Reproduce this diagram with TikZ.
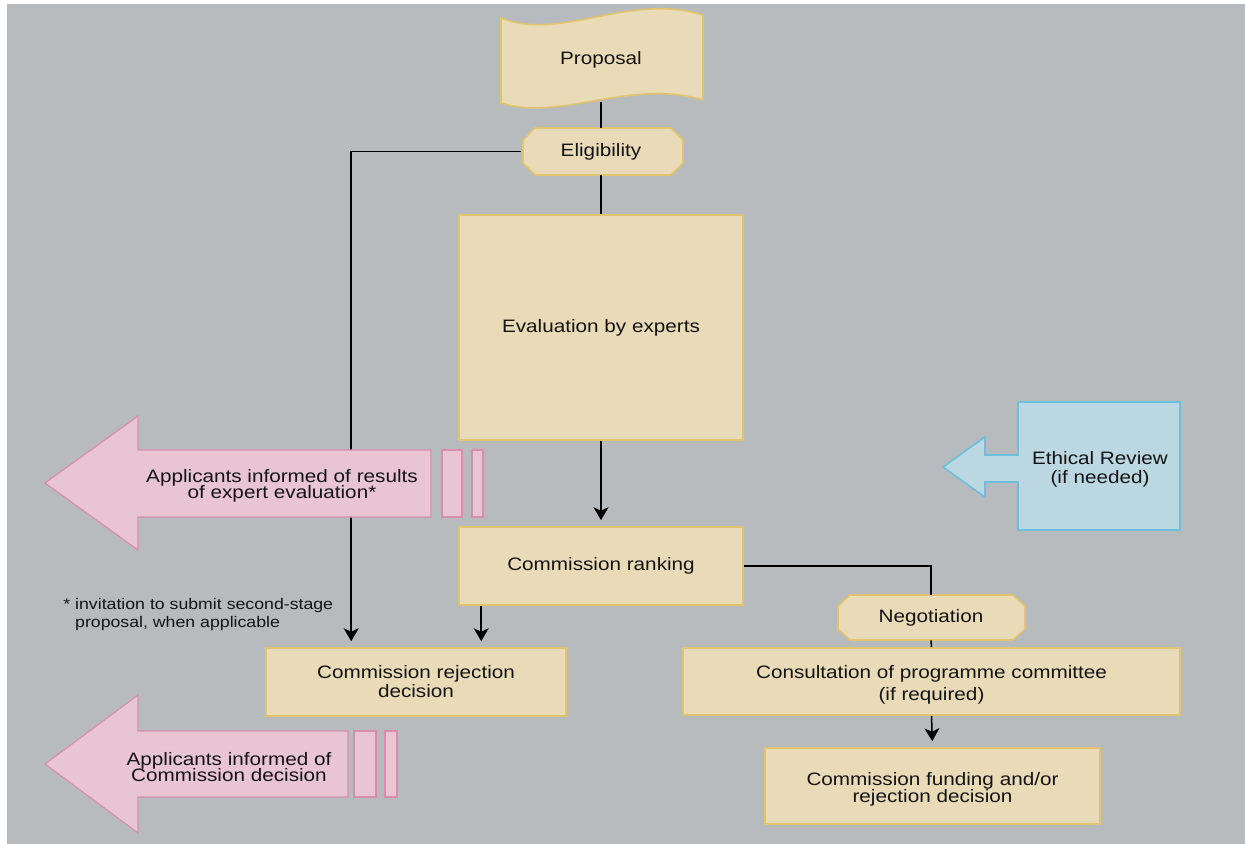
\documentclass[tikz,border=0pt]{standalone}
\usepackage{fontspec}
\setmainfont[FakeStretch=1.15]{Liberation Sans}
\usetikzlibrary{arrows.meta,calc}
\definecolor{bggray}{HTML}{B7BBBE}
\definecolor{beige}{HTML}{E9DAB8}
\definecolor{beigeline}{HTML}{E2C46E}
\definecolor{pinkfill}{HTML}{E9C5D3}
\definecolor{pinkline}{HTML}{D98DAE}
\definecolor{bluefill}{HTML}{BBD7E2}
\definecolor{blueline}{HTML}{6CC0DC}
\definecolor{ink}{HTML}{141414}
\newcommand{\fs}[2]{\fontsize{#1}{#2}\selectfont\lineskiplimit=-20pt\relax}
\tikzset{
  x=0.5pt, y=-0.5pt,
  lbl/.style={text=ink, align=center, font=\fs{9}{9.5}, inner sep=0pt},
  box/.style={lbl, draw=beigeline, fill=beige, line width=0.8pt},
  beigeshape/.style={draw=beigeline, fill=beige, line width=0.8pt},
  pinkshape/.style={draw=pinkline, fill=pinkfill, line width=0.6pt},
  blueshape/.style={draw=blueline, fill=bluefill, line width=0.8pt},
  conn/.style={draw=black, line width=0.75pt},
  arr/.style={conn, -{Stealth[length=6.5pt,width=7.5pt,inset=1.8pt]}, shorten >=3pt},
}
\begin{document}
\begin{tikzpicture}
\useasboundingbox (0,0) rectangle (1245,844);
\fill[white] (0,0) rectangle (1245,844);
\fill[bggray] (7,4) rectangle (1245,844);

% Proposal tape shape
\path[beigeshape] (501,18) .. controls (560,42) and (630,-8) .. (703,15)
  -- (703,100) .. controls (630,78) and (560,122) .. (501,103) -- cycle;
\node[lbl, minimum width=101pt, minimum height=42pt] (prop) at (601,60) {Proposal};

% Eligibility octagon
\path[beigeshape] (535,128) -- (671,128) -- (683,140) -- (683,163) -- (671,175)
  -- (535,175) -- (523,163) -- (523,140) -- cycle;
\node[lbl, minimum width=80pt, minimum height=23.5pt] (elig) at (601,151.5) {Eligibility};

% Boxes
\node[box, minimum width=142pt, minimum height=112.5pt] (eval) at (601,327.5) {Evaluation by experts};
\node[box, minimum width=142pt, minimum height=39pt] (rank) at (601,566) {Commission ranking};
\node[box, minimum width=150pt, minimum height=34pt] (reject) at (416,682) {Commission rejection\\decision};

% Negotiation octagon
\path[beigeshape] (850,595) -- (1013,595) -- (1025,606) -- (1025,629) -- (1013,640)
  -- (850,640) -- (838,629) -- (838,606) -- cycle;
\node[lbl, minimum width=93.5pt, minimum height=22.5pt] (neg) at (931,617.5) {Negotiation};

\node[box, minimum width=248.5pt, minimum height=33.5pt] (consult) at (931.5,681.5) {};
\node[lbl, font=\fs{9}{11}] (consulttxt) at (931.5,685) {Consultation of programme committee\\(if required)};
\node[box, minimum width=167.5pt, minimum height=38pt] (fund) at (932.5,786) {};
\node[lbl, font=\fs{9}{8.6}] (fundtxt) at (932.5,789) {Commission funding and/or\\rejection decision};

% Connectors
\draw[conn] (prop.south) -- (elig.north);
\draw[conn] (elig.south) -- (eval.north);
\draw[arr] (elig.west) -| ($(reject.north west)+(43pt,0)$);
\draw[arr] (eval.south) -- (rank.north);
\draw[arr] ($(rank.south west)+(11.5pt,0)$) coordinate (r1) -- (r1 |- reject.north);
\draw[conn] (rank.east) -| (neg.north);
\draw[conn] (neg.south) -- (consult.north);
\draw[arr] (consult.south) -- (fund.north);

% Pink arrow 1
\path[pinkshape] (45,483) -- (138,416) -- (138,450) -- (431,450) -- (431,517)
  -- (138,517) -- (138,550) -- cycle;
\path[pinkshape] (442,450) rectangle (462,517);
\path[pinkshape] (472,450) rectangle (483,517);
\node[lbl, font=\fs{9}{8}] (inf1) at (282,486) {Applicants informed of results\\of expert evaluation*};

% Pink arrow 2
\path[pinkshape] (45,764) -- (138,695) -- (138,731) -- (348,731) -- (348,797)
  -- (138,797) -- (138,833) -- cycle;
\path[pinkshape] (354,731) rectangle (376,797);
\path[pinkshape] (385,731) rectangle (397,797);
\node[lbl, font=\fs{9}{8}] (inf2) at (229,767) {Applicants informed of\\Commission decision};

% Ethical review
\path[blueshape] (943,467) -- (985,437) -- (985,455) -- (1018,455) -- (1018,402)
  -- (1180,402) -- (1180,530) -- (1018,530) -- (1018,482) -- (985,482)
  -- (985,497) -- cycle;
\node[lbl] (eth) at (1100,469) {Ethical Review\\(if needed)};

% Footnote
\node[lbl, anchor=west, align=left, font=\fs{7.7}{9}] (foot) at (63,615)
  {*~invitation to submit second-stage\\\hphantom{*~}proposal, when applicable};
\end{tikzpicture}
\end{document}
